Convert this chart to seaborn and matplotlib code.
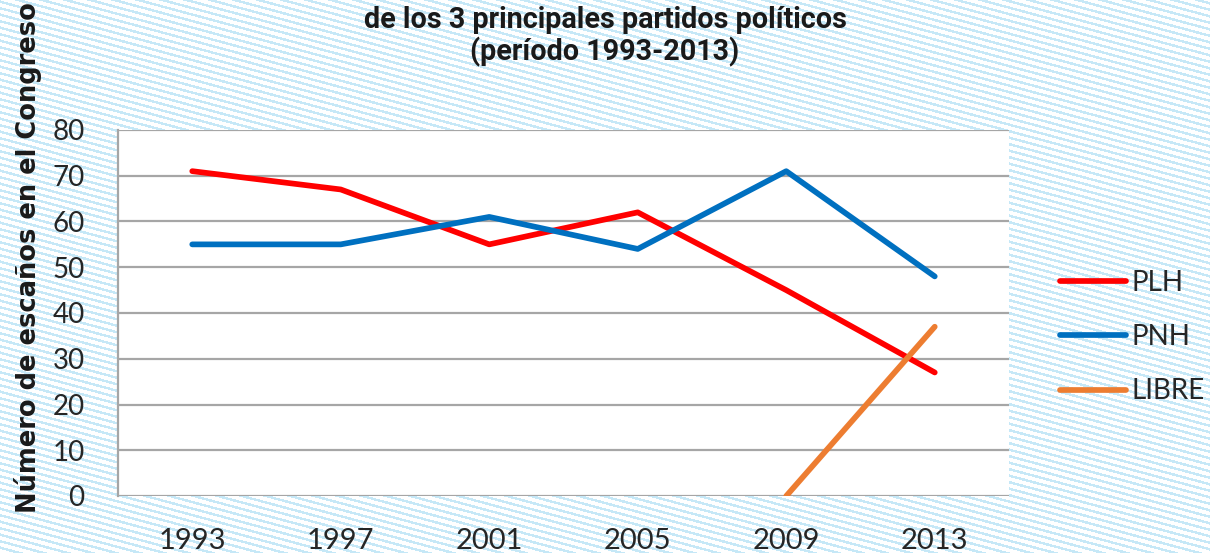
import numpy as np
import pandas as pd
import matplotlib
matplotlib.use("Agg")
import matplotlib.pyplot as plt
import seaborn as sns

years = ["1993", "1997", "2001", "2005", "2009", "2013"]
plh = [71, 67, 55, 62, 45, 27]
pnh = [55, 55, 61, 54, 71, 48]
libre_years = ["2009", "2013"]
libre = [0, 37]
series_names = ["PLH", "PNH", "LIBRE"]
colors = ["#FF0000", "#0070C0", "#ED7D31"]
y_ticks = [0, 10, 20, 30, 40, 50, 60, 70, 80]

rows = []
for y, v in zip(years, plh):
    rows.append(("PLH", years.index(y), v))
for y, v in zip(years, pnh):
    rows.append(("PNH", years.index(y), v))
for y, v in zip(libre_years, libre):
    rows.append(("LIBRE", years.index(y), v))
df = pd.DataFrame(rows, columns=["partido", "pos", "escanos"])

sns.set_theme(style="white")
plt.rcParams["font.family"] = ["Lato", "DejaVu Sans"]

W, H = 1210, 553
fig = plt.figure(figsize=(W / 100, H / 100), dpi=100)

# striped background
bg = fig.add_axes([0, 0, 1, 1], zorder=-10)
yy, xx = np.mgrid[0:H, 0:W]
pattern = ((yy - 0.27 * xx) % 6.5) < 2.6
img = np.ones((H, W, 3))
stripe = np.array([0.78, 0.91, 0.97])
img[pattern] = stripe
bg.imshow(img, aspect="auto", interpolation="nearest")
bg.set_axis_off()

ax = fig.add_axes([118 / W, 1 - 496 / H, (1009 - 118) / W, (496 - 130) / H])
ax.set_facecolor("white")

sns.lineplot(data=df, x="pos", y="escanos", hue="partido", hue_order=series_names,
             palette=colors, linewidth=4.1, sort=False, ax=ax, legend=True)
for ln in ax.get_lines():
    ln.set_solid_capstyle("round")
    ln.set_solid_joinstyle("round")

ax.set_xlim(-0.5, len(years) - 0.5)
ax.set_ylim(0, 80)
ax.set_xticks(range(len(years)))
ax.set_xticklabels(years)
ax.set_yticks(y_ticks)
ax.yaxis.grid(True, color="#A6A6A6", linewidth=1.6)
ax.xaxis.grid(False)
ax.set_axisbelow(True)
for s in ["top", "right", "bottom"]:
    ax.spines[s].set_visible(False)
ax.spines["left"].set_color("#A6A6A6")
ax.spines["left"].set_linewidth(1.6)
ax.tick_params(axis="both", length=0, colors="#262626")
ax.tick_params(axis="x", pad=23, labelsize=21)
ax.tick_params(axis="y", pad=24, labelsize=20)
ax.set_xlabel("")
ax.set_ylabel("")

leg = ax.legend(loc="center left", bbox_to_anchor=(1060 / W, 1 - 337 / H),
                bbox_transform=fig.transFigure, frameon=False, fontsize=20,
                handlelength=2.37, handletextpad=0.2, labelspacing=1.02,
                borderpad=0, borderaxespad=0)
for h in leg.get_lines():
    h.set_linewidth(4.1)
    h.set_solid_capstyle("round")
for t in leg.get_texts():
    t.set_color("#262626")

fig.text(28 / W, 1 - 258 / H, "Número de escaños en el Congreso", rotation=90,
         ha="center", va="center", fontsize=18.5, fontweight="bold",
         family=["DejaVu Sans"], color="#1a1a1a")

fig.text(605 / W, 1 - 20 / H, "de los 3 principales partidos políticos",
         ha="center", va="center", fontsize=20.7, fontweight="bold",
         family=["Roboto", "DejaVu Sans"], color="#1a1a1a")
fig.text(605 / W, 1 - 52 / H, "(período 1993-2013)",
         ha="center", va="center", fontsize=20.7, fontweight="bold",
         family=["Roboto", "DejaVu Sans"], color="#1a1a1a")

fig.savefig("out.png", dpi=100)
